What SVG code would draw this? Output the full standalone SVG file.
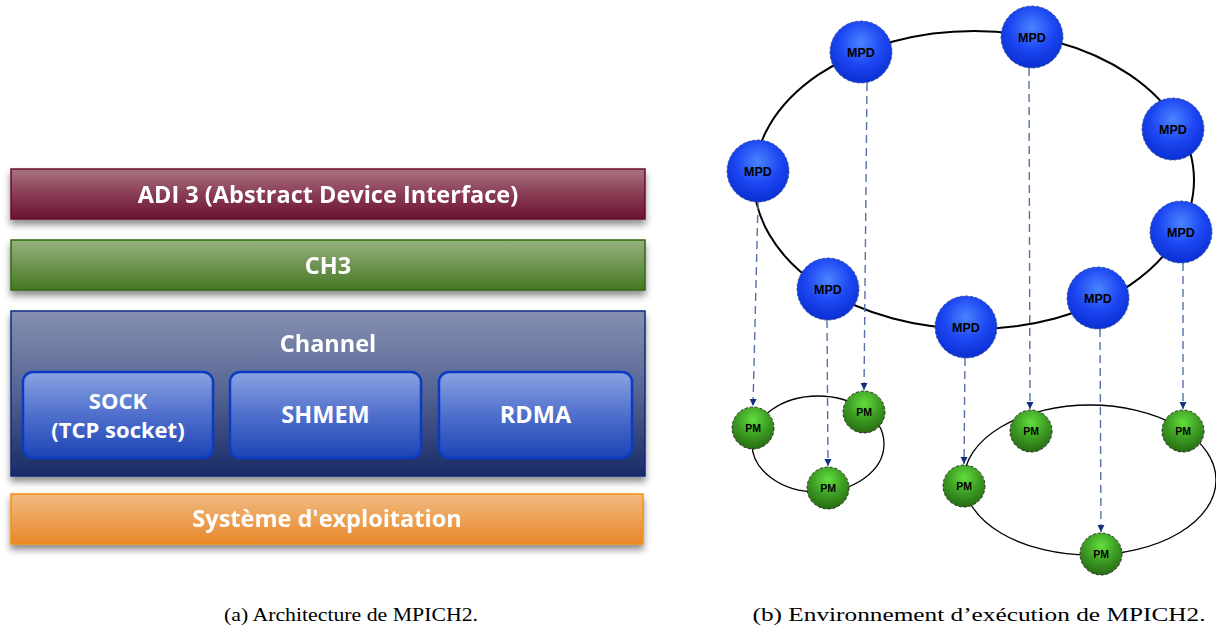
<svg xmlns="http://www.w3.org/2000/svg" width="1216" height="629" viewBox="0 0 1216 629">
<defs>
  <linearGradient id="gADI" x1="0" y1="0" x2="0" y2="1">
    <stop offset="0" stop-color="#a8737f"/><stop offset="0.5" stop-color="#8a3d55"/><stop offset="1" stop-color="#6a1232"/>
  </linearGradient>
  <linearGradient id="gCH3" x1="0" y1="0" x2="0" y2="1">
    <stop offset="0" stop-color="#96b27e"/><stop offset="0.5" stop-color="#6f9452"/><stop offset="1" stop-color="#467822"/>
  </linearGradient>
  <linearGradient id="gCHN" x1="0" y1="0" x2="0" y2="1">
    <stop offset="0" stop-color="#8590b0"/><stop offset="0.45" stop-color="#5a6896"/><stop offset="1" stop-color="#182a66"/>
  </linearGradient>
  <linearGradient id="gIN" x1="0" y1="0" x2="0" y2="1">
    <stop offset="0" stop-color="#8aa3e2"/><stop offset="0.5" stop-color="#4f6fcc"/><stop offset="1" stop-color="#1c44b6"/>
  </linearGradient>
  <linearGradient id="gOS" x1="0" y1="0" x2="0" y2="1">
    <stop offset="0" stop-color="#f1bb80"/><stop offset="1" stop-color="#e8872a"/>
  </linearGradient>
  <radialGradient id="gMPD" cx="0.5" cy="0.35" r="0.65">
    <stop offset="0" stop-color="#4a84ff"/><stop offset="0.55" stop-color="#1c46f2"/><stop offset="1" stop-color="#0a2fd2"/>
  </radialGradient>
  <radialGradient id="gPM" cx="0.5" cy="0.3" r="0.7">
    <stop offset="0" stop-color="#62de3e"/><stop offset="0.55" stop-color="#3c9b22"/><stop offset="1" stop-color="#276c12"/>
  </radialGradient>
  <filter id="shadow" x="-5%" y="-20%" width="110%" height="150%">
    <feDropShadow dx="0" dy="5" stdDeviation="3.5" flood-color="#000" flood-opacity="0.45"/>
  </filter>
  <marker id="arr" markerWidth="8" markerHeight="8" refX="7" refY="4" orient="auto" markerUnits="userSpaceOnUse" viewBox="0 0 8 8">
    <path d="M0,0.5 L7,4 L0,7.5 Z" fill="#12307e"/>
  </marker>
  <style>
    .lbl { font-family: "Open Sans", "DejaVu Sans", sans-serif; font-weight: bold; fill: #ffffff; text-anchor: middle; font-size: 23.5px; }
    .sm { font-size: 22px; }
    .node { font-family: "Liberation Sans", Arial, sans-serif; font-weight: bold; fill: #000; text-anchor: middle; }
    .mpd circle { fill: url(#gMPD); stroke: #2a4a8a; stroke-width: 0.8; stroke-dasharray: 3 2; }
    .pm circle { fill: url(#gPM); stroke: #222; stroke-width: 0.9; stroke-dasharray: 3 2; }
    .mpd text { font-size: 12.5px; }
    .pm text { font-size: 10.5px; }
    .conn line { stroke: #5670a8; stroke-width: 1.4; stroke-dasharray: 8 5; }
    .ring { fill: none; stroke: #000; }
    .cap { font-family: "Liberation Serif", "DejaVu Serif", serif; font-size: 18px; fill: #000; text-anchor: middle; }
  </style>
</defs>
<rect width="1216" height="629" fill="#ffffff"/>

<!-- Left panel: architecture -->
<g id="adi" filter="url(#shadow)">
  <rect x="11" y="169" width="634" height="50" fill="url(#gADI)" stroke="#6b0a2b" stroke-width="1.5"/>
  <text class="lbl" x="328" y="203">ADI 3 (Abstract Device Interface)</text>
</g>
<g id="ch3" filter="url(#shadow)">
  <rect x="11" y="240" width="634" height="50" fill="url(#gCH3)" stroke="#2e6a12" stroke-width="1.5"/>
  <text class="lbl" x="328" y="274">CH3</text>
</g>
<g id="channel" filter="url(#shadow)">
  <rect x="11" y="311" width="634" height="165" fill="url(#gCHN)" stroke="#0f2a78" stroke-width="1.5"/>
  <text class="lbl" x="328" y="352">Channel</text>
</g>
<g id="sock">
  <rect x="23" y="372" width="190" height="86" rx="10" fill="url(#gIN)" stroke="#0a3cc2" stroke-width="2.5"/>
  <text class="lbl sm" x="118" y="409">SOCK</text>
  <text class="lbl sm" x="118" y="438">(TCP socket)</text>
</g>
<g id="shmem">
  <rect x="230" y="372" width="191" height="86" rx="10" fill="url(#gIN)" stroke="#0a3cc2" stroke-width="2.5"/>
  <text class="lbl" x="325.5" y="423">SHMEM</text>
</g>
<g id="rdma">
  <rect x="439" y="372" width="193" height="86" rx="10" fill="url(#gIN)" stroke="#0a3cc2" stroke-width="2.5"/>
  <text class="lbl" x="535.5" y="423">RDMA</text>
</g>
<g id="os" filter="url(#shadow)">
  <rect x="11" y="494" width="632" height="50" fill="url(#gOS)" stroke="#f39015" stroke-width="1.5"/>
  <text class="lbl" x="327" y="527">Système d'exploitation</text>
</g>

<!-- Right panel: rings -->
<g id="rings">
  <ellipse class="ring" cx="974" cy="180" rx="220" ry="149" stroke-width="2"/>
  <ellipse class="ring" cx="818" cy="444" rx="66" ry="48" stroke-width="1.3"/>
  <ellipse class="ring" cx="1090" cy="480" rx="126" ry="75" stroke-width="1.3"/>
</g>

<g id="connectors" class="conn">
  <line x1="758" y1="202" x2="753" y2="406" marker-end="url(#arr)"/>
  <line x1="867" y1="83" x2="864" y2="390" marker-end="url(#arr)"/>
  <line x1="827" y1="320" x2="828" y2="466" marker-end="url(#arr)"/>
  <line x1="1029" y1="68" x2="1030" y2="409" marker-end="url(#arr)"/>
  <line x1="965" y1="358" x2="964" y2="464" marker-end="url(#arr)"/>
  <line x1="1100" y1="329" x2="1101" y2="532" marker-end="url(#arr)"/>
  <line x1="1183" y1="263" x2="1183" y2="409" marker-end="url(#arr)"/>
</g>

<g id="mpd1" class="mpd node"><circle cx="861" cy="52" r="31"/><text x="861" y="56.5">MPD</text></g>
<g id="mpd2" class="mpd node"><circle cx="1032" cy="37" r="31"/><text x="1032" y="41.5">MPD</text></g>
<g id="mpd3" class="mpd node"><circle cx="1173" cy="129" r="31"/><text x="1173" y="133.5">MPD</text></g>
<g id="mpd4" class="mpd node"><circle cx="758" cy="171" r="31"/><text x="758" y="175.5">MPD</text></g>
<g id="mpd5" class="mpd node"><circle cx="1181" cy="232" r="31"/><text x="1181" y="236.5">MPD</text></g>
<g id="mpd6" class="mpd node"><circle cx="828" cy="289" r="31"/><text x="828" y="293.5">MPD</text></g>
<g id="mpd7" class="mpd node"><circle cx="966" cy="327" r="31"/><text x="966" y="331.5">MPD</text></g>
<g id="mpd8" class="mpd node"><circle cx="1098" cy="298" r="31"/><text x="1098" y="302.5">MPD</text></g>

<g id="pm1" class="pm node"><circle cx="753" cy="428" r="21"/><text x="753" y="432">PM</text></g>
<g id="pm2" class="pm node"><circle cx="864" cy="412" r="21"/><text x="864" y="416">PM</text></g>
<g id="pm3" class="pm node"><circle cx="828" cy="488" r="21"/><text x="828" y="492">PM</text></g>
<g id="pm4" class="pm node"><circle cx="1031" cy="431" r="21"/><text x="1031" y="435">PM</text></g>
<g id="pm5" class="pm node"><circle cx="1183" cy="431" r="21"/><text x="1183" y="435">PM</text></g>
<g id="pm6" class="pm node"><circle cx="964" cy="486" r="21"/><text x="964" y="490">PM</text></g>
<g id="pm7" class="pm node"><circle cx="1101" cy="554" r="21"/><text x="1101" y="558">PM</text></g>

<g id="captions">
  <text class="cap" x="351" y="621" textLength="254" lengthAdjust="spacingAndGlyphs">(a) Architecture de MPICH2.</text>
  <text class="cap" x="979" y="621" textLength="453" lengthAdjust="spacingAndGlyphs">(b) Environnement d’exécution de MPICH2.</text>
</g>
</svg>
